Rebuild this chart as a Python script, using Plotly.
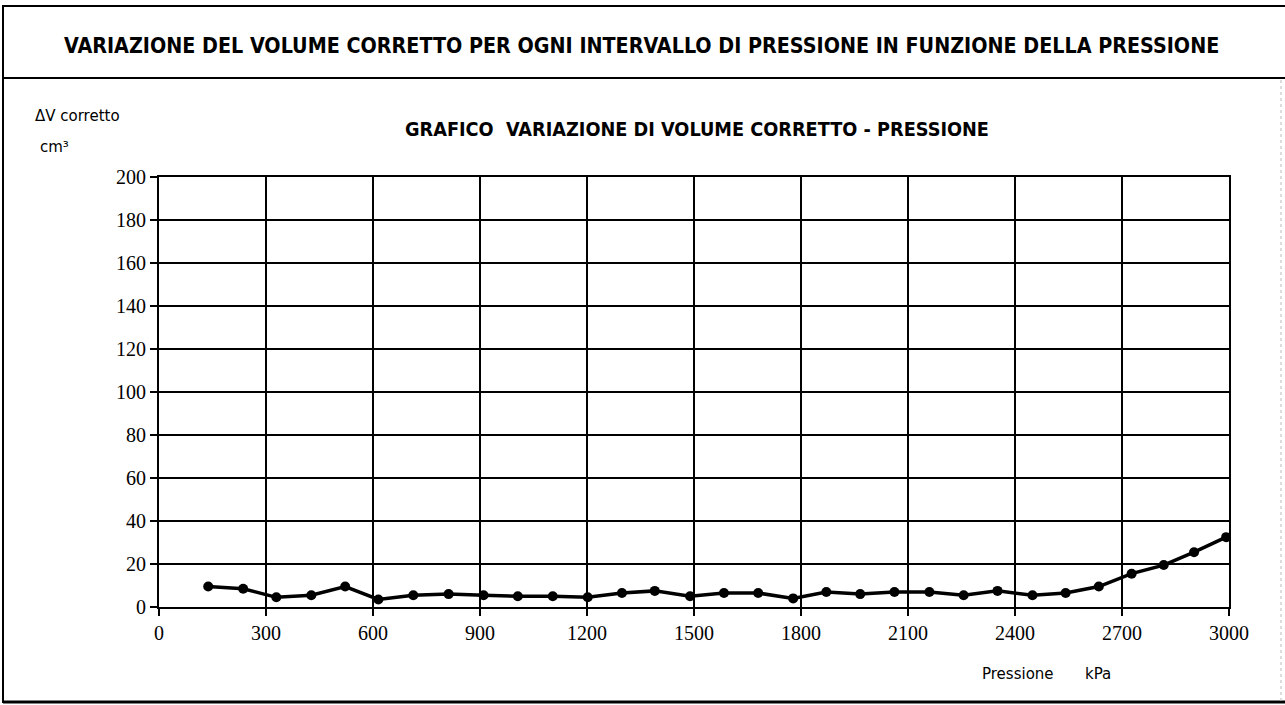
import plotly.graph_objects as go

# Pressure steps (kPa) and corrected volume change per step (cm³)
pressione_kpa = [138, 236, 329, 427, 522, 615, 713, 812, 910, 1006,
                 1104, 1202, 1298, 1390, 1489, 1584, 1680, 1778, 1871, 1966,
                 2062, 2160, 2256, 2351, 2449, 2542, 2635, 2727, 2817, 2902, 2992]
delta_v_corretto = [9.5, 8.5, 4.5, 5.5, 9.5, 3.5, 5.5, 6.0, 5.5, 5.0,
                    5.0, 4.5, 6.5, 7.5, 5.0, 6.5, 6.5, 4.0, 7.0, 6.0,
                    7.0, 7.0, 5.5, 7.5, 5.5, 6.5, 9.5, 15.5, 19.5, 25.5, 32.5]

x_ticks = [0, 300, 600, 900, 1200, 1500, 1800, 2100, 2400, 2700, 3000]
y_ticks = [0, 20, 40, 60, 80, 100, 120, 140, 160, 180, 200]

W, H = 1285, 705
L, R, T, B = 159, 1229, 177, 607

serif = "Liberation Serif, Times New Roman, serif"
sans = "DejaVu Sans, Verdana, sans-serif"
sans_cond = "DejaVu Sans Condensed, DejaVu Sans, sans-serif"

fig = go.Figure()
fig.add_trace(go.Scatter(
    x=pressione_kpa, y=delta_v_corretto,
    mode="lines+markers",
    line=dict(color="black", width=3.5),
    marker=dict(color="black", size=10, symbol="circle"),
    showlegend=False,
    hoverinfo="x+y",
))

axis_common = dict(
    showgrid=True, gridcolor="black", gridwidth=2,
    showline=True, linecolor="black", linewidth=2, mirror=True,
    ticks="outside", ticklen=7, tickwidth=2, tickcolor="black",
    tickfont=dict(family=serif, size=20, color="black"),
    zeroline=False, fixedrange=True,
)

fig.update_xaxes(range=[0, 3000], tickvals=x_ticks, ticktext=[str(v) for v in x_ticks], **axis_common)
fig.update_yaxes(range=[0, 200], tickvals=y_ticks, ticktext=[str(v) for v in y_ticks], **axis_common)


# convert page pixel positions into paper coordinates of the plot area
def px_x(v):
    return (v - L) / (R - L)


def px_y(v):
    return (B - v) / (B - T)


def hline(x0, x1, y, width=2, color="black", dash="solid"):
    return dict(type="line", xref="paper", yref="paper",
                x0=px_x(x0), x1=px_x(x1), y0=px_y(y), y1=px_y(y),
                line=dict(color=color, width=width, dash=dash))


def vline(x, y0, y1, width=2, color="black", dash="solid"):
    return dict(type="line", xref="paper", yref="paper",
                x0=px_x(x), x1=px_x(x), y0=px_y(y0), y1=px_y(y1),
                line=dict(color=color, width=width, dash=dash))


shapes = [
    vline(3, 5, 703, width=2),                       # left edge of the frame
    hline(3, 1285, 6, width=2),                      # top edge
    hline(3, 1285, 702, width=3),                    # bottom edge
    vline(1281, 80, 702, width=1, color="#bbbbbb", dash="dot"),
    hline(3, 1285, 78, width=2),                     # rule under the heading
]


def label(text, x, y, size, bold=False, anchor="left", family=sans):
    return dict(text=f"<b>{text}</b>" if bold else text,
                x=px_x(x), y=px_y(y), xref="paper", yref="paper", showarrow=False,
                xanchor=anchor, yanchor="middle",
                font=dict(family=family, size=size, color="black"))


annotations = [
    label("VARIAZIONE DEL VOLUME CORRETTO PER OGNI INTERVALLO DI PRESSIONE IN FUNZIONE DELLA PRESSIONE",
          641, 45, 21.3, bold=True, anchor="center", family=sans_cond),
    label("GRAFICO  VARIAZIONE DI VOLUME CORRETTO - PRESSIONE", 697, 130, 19.7, bold=True,
          anchor="center", family=sans_cond),
    label("ΔV corretto", 33, 116, 15),
    label("cm³", 38, 147, 15),
    label("Pressione", 980, 674, 15),
    label("kPa", 1083, 674, 15),
]

fig.update_layout(
    width=W, height=H,
    margin=dict(l=L, r=W - R, t=T, b=H - B, pad=0),
    paper_bgcolor="white", plot_bgcolor="white",
    shapes=shapes, annotations=annotations,
    showlegend=False,
)

fig.write_html("out.html", config={"displayModeBar": False})
